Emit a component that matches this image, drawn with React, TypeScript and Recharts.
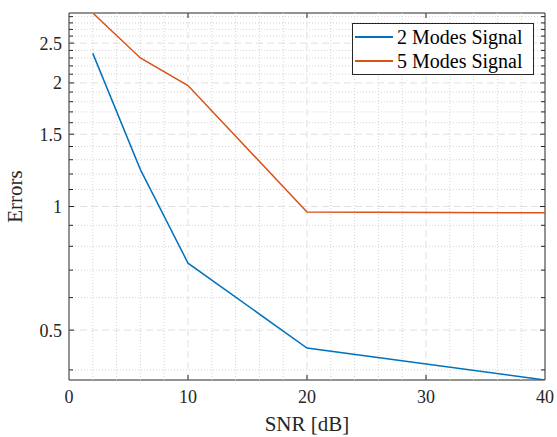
import React from 'react';
import { LineChart, Line, XAxis, YAxis, ReferenceLine, ReferenceArea } from 'recharts';

const snr = [2, 6, 10, 20, 40];
const twoModes = [2.36, 1.23, 0.728, 0.452, 0.378];
const fiveModes = [2.96, 2.3, 1.97, 0.97, 0.965];

const xTicks = [0, 10, 20, 30, 40];
const xMajorGrid = [10, 20, 30];
const xMinorGrid = [2, 4, 6, 8, 12, 14, 16, 18, 22, 24, 26, 28, 32, 34, 36, 38];
const yTicks = [0.5, 1, 1.5, 2, 2.5];
const yMinor = [0.4, 0.6, 0.7, 0.8, 0.9, 1.1, 1.2, 1.3, 1.4, 1.6, 1.7, 1.8, 1.9, 2.1, 2.2, 2.3, 2.4, 2.6, 2.7, 2.8, 2.9];

const seriesNames = ['2 Modes Signal', '5 Modes Signal'];

const BLUE = '#0072BD';
const ORANGE = '#D95319';
const AXIS = '#262626';
const FONT = '"Liberation Serif", "Times New Roman", serif';

const chartData = snr.map((s, i) => ({ snr: s, two: twoModes[i], five: fiveModes[i] }));

// grid line + inward tick marks at both ends
const gridShape = (dash: string, color: string, tick: number, vertical: boolean) => (p: any) => {
  const { x1, y1, x2, y2 } = p;
  return (
    <g>
      <line x1={x1} y1={y1} x2={x2} y2={y2} stroke={color} strokeWidth={1} strokeDasharray={dash} />
      {tick > 0 && !vertical && (
        <>
          <line x1={x1} y1={y1} x2={x1 + tick} y2={y1} stroke={AXIS} strokeWidth={1} />
          <line x1={x2} y1={y2} x2={x2 - tick} y2={y2} stroke={AXIS} strokeWidth={1} />
        </>
      )}
      {tick > 0 && vertical && (
        <>
          <line x1={x1} y1={Math.max(y1, y2)} x2={x1} y2={Math.max(y1, y2) - tick} stroke={AXIS} strokeWidth={1} />
          <line x1={x1} y1={Math.min(y1, y2)} x2={x1} y2={Math.min(y1, y2) + tick} stroke={AXIS} strokeWidth={1} />
        </>
      )}
    </g>
  );
};

const tickStyle = { fontFamily: FONT, fontSize: 18, fill: AXIS };

const App: React.FC = () => {
  return (
    <div style={{ position: 'absolute', left: 0, top: 0, width: 557, height: 437, background: '#fff' }}>
      <LineChart width={557} height={437} data={chartData} margin={{ top: 13, right: 12, left: 0, bottom: 0 }}>
        <XAxis
          dataKey="snr"
          type="number"
          domain={[0, 40]}
          ticks={xTicks}
          tickLine={false}
          axisLine={false}
          tickSize={0}
          tickMargin={10}
          height={57}
          tick={{ style: tickStyle }}
          label={{ value: 'SNR [dB]', position: 'insideBottom', offset: 6, style: { fontFamily: FONT, fontSize: 21, fill: AXIS } }}
        />
        <YAxis
          scale="log"
          type="number"
          domain={['dataMin', 'dataMax']}
          ticks={yTicks}
          allowDataOverflow
          tickLine={false}
          axisLine={false}
          tickSize={0}
          tickMargin={7}
          width={69}
          tickFormatter={(v: number) => String(v)}
          tick={{ style: tickStyle }}
          label={{ value: 'Errors', angle: -90, position: 'insideLeft', offset: 15, style: { fontFamily: FONT, fontSize: 21, fill: AXIS, textAnchor: 'middle' } }}
        />
        {xMinorGrid.map((v) => (
          <ReferenceLine key={'xm' + v} x={v} shape={gridShape('1 2', '#d4d4d4', 0, true)} />
        ))}
        {yMinor.map((v) => (
          <ReferenceLine key={'ym' + v} y={v} shape={gridShape('1 2', '#d4d4d4', 4, false)} />
        ))}
        {xMajorGrid.map((v) => (
          <ReferenceLine key={'xM' + v} x={v} shape={gridShape('7 4', '#e0e0e0', 5, true)} />
        ))}
        {yTicks.map((v) => (
          <ReferenceLine key={'yM' + v} y={v} shape={gridShape('7 4', '#e0e0e0', 5, false)} />
        ))}
        <Line type="linear" dataKey="two" name={seriesNames[0]} stroke={BLUE} strokeWidth={1.5} dot={false} isAnimationActive={false} />
        <Line type="linear" dataKey="five" name={seriesNames[1]} stroke={ORANGE} strokeWidth={1.5} dot={false} isAnimationActive={false} />
        <ReferenceArea x1={0} x2={40} y1={0.378} y2={2.96} fill="none" stroke={AXIS} strokeWidth={1} ifOverflow="visible" />
      </LineChart>
      <div
        style={{
          position: 'absolute',
          top: 23,
          left: 352,
          border: `1px solid ${AXIS}`,
          background: '#fff',
          width: 182,
          height: 52,
          fontFamily: FONT,
          fontSize: 20,
          color: '#000',
          boxSizing: 'border-box',
          paddingTop: 1,
        }}
      >
        {[
          { label: seriesNames[0], color: BLUE },
          { label: seriesNames[1], color: ORANGE },
        ].map((it) => (
          <div key={it.label} style={{ display: 'flex', alignItems: 'center', height: 24, whiteSpace: 'nowrap' }}>
            <div style={{ width: 38, height: 2, background: it.color, marginLeft: 2, marginRight: 4, flexShrink: 0 }} />
            <span>{it.label}</span>
          </div>
        ))}
      </div>
    </div>
  );
};

export default App;
